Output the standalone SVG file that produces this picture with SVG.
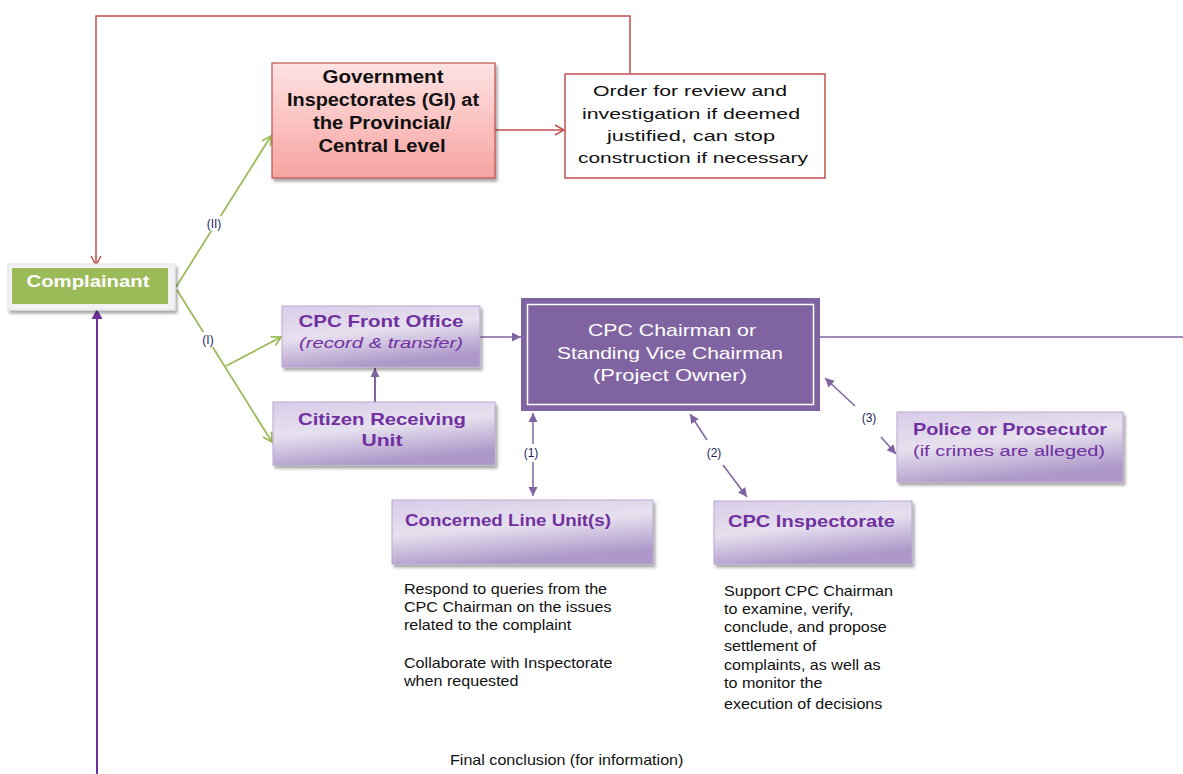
<svg xmlns="http://www.w3.org/2000/svg" width="1183" height="774" viewBox="0 0 1183 774">
<defs>
<linearGradient id="gPink" x1="0" y1="0" x2="0" y2="1"><stop offset="0" stop-color="#ffe3e3"/><stop offset="1" stop-color="#f6a3a1"/></linearGradient>
<linearGradient id="gLav" x1="0" y1="0" x2="0.35" y2="1"><stop offset="0" stop-color="#d9cde8"/><stop offset="0.5" stop-color="#e6e0ee"/><stop offset="1" stop-color="#ad98c9"/></linearGradient>
<filter id="sh" x="-10%" y="-10%" width="130%" height="140%"><feDropShadow dx="2" dy="3" stdDeviation="1.5" flood-color="#000" flood-opacity="0.35"/></filter>
<marker id="aRed" markerWidth="12" markerHeight="12" refX="10" refY="6" orient="auto" markerUnits="userSpaceOnUse"><path d="M1,1 L10,6 L1,11" fill="none" stroke="#c0504d" stroke-width="1.5"/></marker>
<marker id="aGreen" markerWidth="12" markerHeight="12" refX="10" refY="6" orient="auto" markerUnits="userSpaceOnUse"><path d="M1,1 L10,6 L1,11" fill="none" stroke="#9bbb59" stroke-width="1.8"/></marker>
<marker id="aPur" markerWidth="12" markerHeight="12" refX="10" refY="6" orient="auto" markerUnits="userSpaceOnUse"><path d="M1,1.5 L10,6 L1,10.5 Z" fill="#8064a2"/></marker>
<marker id="aPurS" markerWidth="12" markerHeight="12" refX="2" refY="6" orient="auto" markerUnits="userSpaceOnUse"><path d="M11,1.5 L2,6 L11,10.5 Z" fill="#8064a2"/></marker>
<marker id="aViolet" markerWidth="14" markerHeight="14" refX="11" refY="7" orient="auto" markerUnits="userSpaceOnUse"><path d="M1,1.5 L11,7 L1,12.5 Z" fill="#7030a0"/></marker>
</defs>
<style>
.t{font-family:"Liberation Sans",Arial,sans-serif}
.bt{font-family:"Liberation Sans",Arial,sans-serif;font-weight:bold}
.pl{font-family:"Liberation Sans",Arial,sans-serif;font-weight:bold;fill:#7030a0;font-size:17px}
.lab{font-family:"Liberation Sans",Arial,sans-serif;font-size:12px;fill:#1f1f5f}
.note{font-family:"Liberation Sans",Arial,sans-serif;font-size:14px;fill:#111}
.lav{fill:url(#gLav);stroke:#b8a8cf;stroke-width:1;filter:url(#sh)}
</style>

<g id="connectors">
<polyline points="630,74 630,16 96,16 96,265" fill="none" stroke="#c0504d" stroke-width="1.5" marker-end="url(#aRed)"/>
<line x1="495" y1="130" x2="564" y2="130" stroke="#c0504d" stroke-width="1.5" marker-end="url(#aRed)"/>
<line x1="176" y1="287" x2="271" y2="136" stroke="#9bbb59" stroke-width="1.8" marker-end="url(#aGreen)"/>
<line x1="177" y1="290" x2="272" y2="442" stroke="#9bbb59" stroke-width="1.8" marker-end="url(#aGreen)"/>
<line x1="226" y1="366" x2="281" y2="337" stroke="#9bbb59" stroke-width="1.8" marker-end="url(#aGreen)"/>
<rect x="200" y="216" width="28" height="15" fill="#fff"/>
<text x="214" y="228" class="lab" text-anchor="middle">(II)</text>
<rect x="198" y="332" width="20" height="15" fill="#fff"/>
<text x="208" y="344" class="lab" text-anchor="middle">(I)</text>
<line x1="97" y1="774" x2="97" y2="309" stroke="#7030a0" stroke-width="2" marker-end="url(#aViolet)"/>
<line x1="375" y1="402" x2="375" y2="368" stroke="#8064a2" stroke-width="2" marker-end="url(#aPur)"/>
<line x1="480" y1="337" x2="521" y2="337" stroke="#8064a2" stroke-width="1.5" marker-end="url(#aPur)"/>
<line x1="820" y1="337" x2="1183" y2="337" stroke="#8064a2" stroke-width="1.5"/>
<line x1="533" y1="413" x2="533" y2="444" stroke="#8064a2" stroke-width="1.5" marker-start="url(#aPurS)"/>
<line x1="533" y1="462" x2="533" y2="496" stroke="#8064a2" stroke-width="1.5" marker-end="url(#aPur)"/>
<text x="531" y="457" class="lab" text-anchor="middle" fill="#222">(1)</text>
<line x1="690" y1="414" x2="707" y2="440" stroke="#8064a2" stroke-width="1.5" marker-start="url(#aPurS)"/>
<line x1="723" y1="465" x2="747" y2="497" stroke="#8064a2" stroke-width="1.5" marker-end="url(#aPur)"/>
<text x="714" y="457" class="lab" text-anchor="middle" fill="#222">(2)</text>
<line x1="825" y1="378" x2="855" y2="406" stroke="#8064a2" stroke-width="1.5" marker-start="url(#aPurS)"/>
<line x1="881" y1="437" x2="896" y2="454" stroke="#8064a2" stroke-width="1.5" marker-end="url(#aPur)"/>
<text x="869" y="422" class="lab" text-anchor="middle" fill="#222">(3)</text>
</g>

<g id="complainant">
<rect x="8" y="264" width="167" height="46" fill="#f2f2f2" stroke="#e0e0e0" filter="url(#sh)"/>
<rect x="12" y="268" width="156" height="36" fill="#9bbb59"/>
<text x="88" y="287" class="bt" font-size="17" fill="#fff" text-anchor="middle" textLength="123" lengthAdjust="spacingAndGlyphs">Complainant</text>
</g>

<g id="gi">
<rect x="272" y="63" width="223" height="115" fill="url(#gPink)" stroke="#c0504d" stroke-width="1.2" filter="url(#sh)"/>
<g class="bt" font-size="18" fill="#111" text-anchor="middle">
<text x="383" y="83" textLength="121" lengthAdjust="spacingAndGlyphs">Government</text>
<text x="383" y="106" textLength="192" lengthAdjust="spacingAndGlyphs">Inspectorates (GI) at</text>
<text x="382" y="129" textLength="138" lengthAdjust="spacingAndGlyphs">the Provincial/</text>
<text x="382" y="152" textLength="127" lengthAdjust="spacingAndGlyphs">Central Level</text>
</g>
</g>

<g id="order">
<rect x="565" y="74" width="260" height="104" fill="#fff" stroke="#c0504d" stroke-width="1.5"/>
<g class="t" font-size="15.5" fill="#111" text-anchor="middle">
<text x="690" y="96" textLength="194" lengthAdjust="spacingAndGlyphs">Order for review and</text>
<text x="691" y="119" textLength="218" lengthAdjust="spacingAndGlyphs">investigation if deemed</text>
<text x="691" y="141" textLength="168" lengthAdjust="spacingAndGlyphs">justified, can stop</text>
<text x="693" y="163" textLength="230" lengthAdjust="spacingAndGlyphs">construction if necessary</text>
</g>
</g>

<g id="frontoffice">
<rect x="282" y="306" width="198" height="61" class="lav"/>
<text x="381" y="327" class="pl" text-anchor="middle" textLength="165" lengthAdjust="spacingAndGlyphs">CPC Front Office</text>
<text x="381" y="348" class="t" font-style="italic" font-size="15.5" fill="#7030a0" text-anchor="middle" textLength="164" lengthAdjust="spacingAndGlyphs">(record &amp; transfer)</text>
</g>

<g id="citizen">
<rect x="273" y="402" width="222" height="63" class="lav"/>
<text x="382" y="425" class="pl" text-anchor="middle" textLength="168" lengthAdjust="spacingAndGlyphs">Citizen Receiving</text>
<text x="382" y="446" class="pl" text-anchor="middle" textLength="41" lengthAdjust="spacingAndGlyphs">Unit</text>
</g>

<g id="chairman">
<rect x="521" y="298" width="299" height="113" fill="#8064a2"/>
<rect x="527.5" y="304.5" width="286" height="100" fill="none" stroke="#fff" stroke-width="1.5"/>
<g class="t" font-size="17" fill="#fff" text-anchor="middle">
<text x="672" y="336" textLength="168" lengthAdjust="spacingAndGlyphs">CPC Chairman or</text>
<text x="670" y="359" textLength="226" lengthAdjust="spacingAndGlyphs">Standing Vice Chairman</text>
<text x="670" y="381" textLength="154" lengthAdjust="spacingAndGlyphs">(Project Owner)</text>
</g>
</g>

<g id="police">
<rect x="897" y="412" width="226" height="70" class="lav"/>
<text x="1010" y="435" class="pl" text-anchor="middle" textLength="194" lengthAdjust="spacingAndGlyphs">Police or Prosecutor</text>
<text x="1009" y="456" class="t" font-size="15.5" fill="#7030a0" text-anchor="middle" textLength="192" lengthAdjust="spacingAndGlyphs">(if crimes are alleged)</text>
</g>

<g id="lineunit">
<rect x="392" y="500" width="261" height="64" class="lav"/>
<text x="405" y="526" class="pl" textLength="206" lengthAdjust="spacingAndGlyphs">Concerned Line Unit(s)</text>
</g>

<g id="inspectorate">
<rect x="714" y="501" width="198" height="63" class="lav"/>
<text x="728" y="527" class="pl" textLength="167" lengthAdjust="spacingAndGlyphs">CPC Inspectorate</text>
</g>

<g id="notes">
<text class="note" transform="translate(404 0) scale(1.15 1) translate(-404 0)"><tspan x="404" y="594">Respond to queries from the</tspan><tspan x="404" y="612">CPC Chairman on the issues</tspan><tspan x="404" y="630">related to the complaint</tspan><tspan x="404" y="668">Collaborate with Inspectorate</tspan><tspan x="404" y="686">when requested</tspan></text>
<text class="note" transform="translate(724 0) scale(1.15 1) translate(-724 0)"><tspan x="724" y="596">Support CPC Chairman</tspan><tspan x="724" y="614">to examine, verify,</tspan><tspan x="724" y="632">conclude, and propose</tspan><tspan x="724" y="651">settlement of</tspan><tspan x="724" y="670">complaints, as well as</tspan><tspan x="724" y="688">to monitor the</tspan><tspan x="724" y="709">execution of decisions</tspan></text>
<text x="450" y="765" class="note" transform="translate(450 0) scale(1.15 1) translate(-450 0)">Final conclusion (for information)</text>
</g>
</svg>
